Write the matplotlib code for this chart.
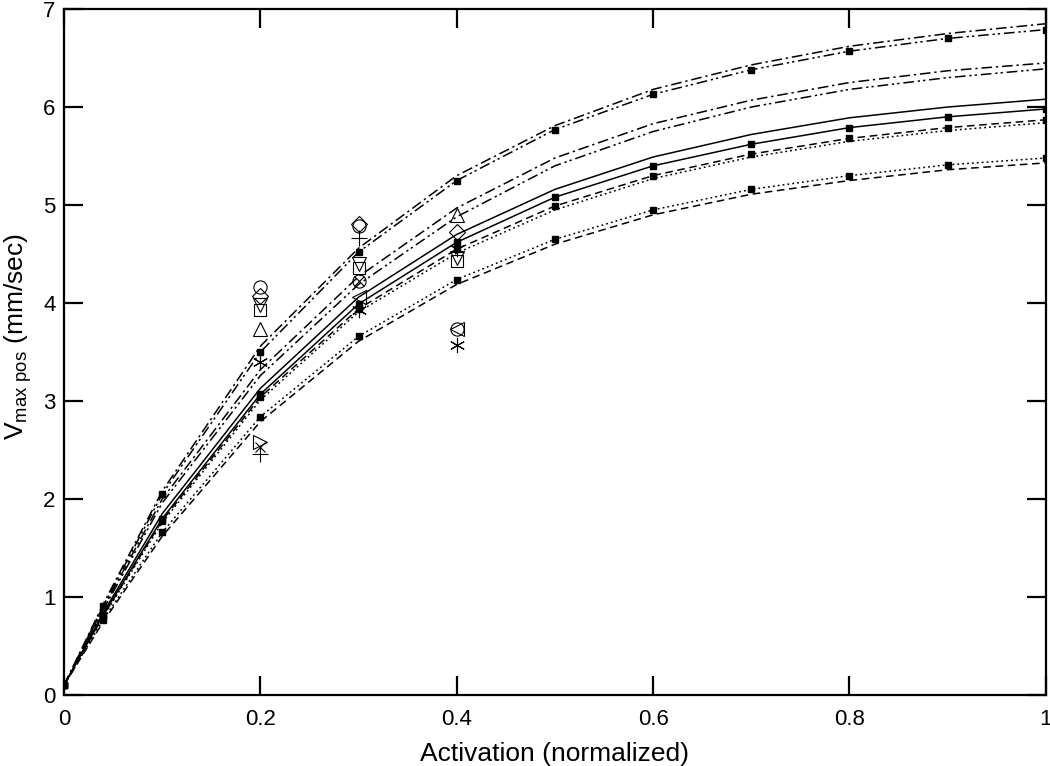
import matplotlib
matplotlib.use("Agg")
import matplotlib.pyplot as plt

plt.rcParams['font.family'] = ['Liberation Sans', 'DejaVu Sans']
plt.rcParams['mathtext.default'] = 'regular'

# activation levels where the model curves were evaluated
act = [0, 0.04, 0.1, 0.2, 0.3, 0.4, 0.5, 0.6, 0.7, 0.8, 0.9, 1.0]

# model curves (pairs), top to bottom at activation = 1
v_dashdot_a = [0.1, 0.93, 2.08, 3.56, 4.56, 5.30, 5.81, 6.18, 6.43, 6.62, 6.75, 6.85]
v_dashdotdot_a = [0.1, 0.91, 2.05, 3.50, 4.52, 5.25, 5.77, 6.13, 6.38, 6.57, 6.70, 6.79]
v_dashdot_b = [0.1, 0.89, 2.00, 3.32, 4.27, 4.97, 5.48, 5.83, 6.07, 6.25, 6.37, 6.45]
v_dashdotdot_b = [0.1, 0.87, 1.96, 3.26, 4.19, 4.88, 5.40, 5.75, 6.00, 6.18, 6.30, 6.39]
v_solid_a = [0.1, 0.84, 1.85, 3.13, 4.06, 4.70, 5.16, 5.49, 5.72, 5.89, 6.00, 6.08]
v_solid_b = [0.1, 0.82, 1.80, 3.07, 3.99, 4.62, 5.08, 5.40, 5.62, 5.79, 5.90, 5.98]
v_dashed_a = [0.1, 0.81, 1.78, 3.04, 3.94, 4.55, 4.99, 5.30, 5.52, 5.68, 5.79, 5.87]
v_dotted_a = [0.1, 0.80, 1.76, 3.01, 3.91, 4.51, 4.95, 5.27, 5.49, 5.65, 5.76, 5.84]
v_dotted_b = [0.1, 0.77, 1.66, 2.84, 3.66, 4.24, 4.65, 4.95, 5.16, 5.30, 5.41, 5.48]
v_dashed_b = [0.1, 0.75, 1.62, 2.79, 3.61, 4.19, 4.60, 4.90, 5.11, 5.25, 5.36, 5.43]

# measured points (open symbols)
circ_x = [0.2, 0.3, 0.3, 0.4]
circ_y = [4.16, 4.79, 4.22, 3.73]
diam_x = [0.2, 0.3, 0.4]
diam_y = [4.07, 4.81, 4.72]
sq_x = [0.2, 0.3, 0.4]
sq_y = [3.93, 4.36, 4.43]
dtri_x = [0.2, 0.3, 0.4]
dtri_y = [3.98, 4.40, 4.46]
utri_x = [0.2, 0.4]
utri_y = [3.73, 4.90]
ast_x = [0.2, 0.3, 0.4, 0.4]
ast_y = [3.40, 3.93, 4.55, 3.57]
plus_x = [0.2, 0.3]
plus_y = [2.46, 4.66]
cross_x = [0.2, 0.3]
cross_y = [2.53, 4.22]
rtri_x = [0.2]
rtri_y = [2.58]
ltri_x = [0.3, 0.4]
ltri_y = [4.06, 3.73]

fig = plt.figure(figsize=(10.5, 7.66), dpi=100)
ax = fig.add_axes([0.061, 0.0927, 0.935, 0.8955])

lw = 1.1
dd = (0, (7, 2.5, 1.5, 2.5))
ddd = (0, (7, 2.5, 1.5, 2, 1.5, 2.5))
mk = dict(marker='s', markersize=4.5, markerfacecolor='k', markeredgecolor='k')

ax.plot(act, v_dashdot_a, color='k', lw=lw, ls=dd)
ax.plot(act, v_dashdotdot_a, color='k', lw=lw, ls=ddd, **mk)
ax.plot(act, v_dashdot_b, color='k', lw=lw, ls=dd)
ax.plot(act, v_dashdotdot_b, color='k', lw=lw, ls=ddd)
ax.plot(act, v_solid_a, color='k', lw=lw, ls='-')
ax.plot(act, v_solid_b, color='k', lw=lw, ls='-', **mk)
ax.plot(act, v_dashed_a, color='k', lw=lw, ls=(0, (5, 3)), **mk)
ax.plot(act, v_dotted_a, color='k', lw=lw, ls=(0, (1.2, 2)))
ax.plot(act, v_dotted_b, color='k', lw=lw, ls=(0, (1.2, 2)), **mk)
ax.plot(act, v_dashed_b, color='k', lw=lw, ls=(0, (5, 3)))

sym = dict(ls='none', markersize=9.5, markerfacecolor='none',
           markeredgecolor='k', markeredgewidth=0.8, clip_on=False)
ax.plot(circ_x, circ_y, marker='o', **sym)
ax.plot(diam_x, diam_y, marker='D', **dict(sym, markersize=8))
ax.plot(sq_x, sq_y, marker='s', **dict(sym, markersize=8.5))
ax.plot(dtri_x, dtri_y, marker='v', **sym)
ax.plot(utri_x, utri_y, marker='^', **sym)
ax.plot(ast_x, ast_y, marker=(6, 2, 0), **dict(sym, markersize=11))
ax.plot(plus_x, plus_y, marker='+', **dict(sym, markersize=12))
ax.plot(cross_x, cross_y, marker='x', **dict(sym, markersize=7.5))
ax.plot(rtri_x, rtri_y, marker='>', **sym)
ax.plot(ltri_x, ltri_y, marker='<', **sym)

ax.set_xlim(0, 1)
ax.set_ylim(0, 7)
ax.set_xticks([0, 0.2, 0.4, 0.6, 0.8, 1])
ax.set_xticklabels(['0', '0.2', '0.4', '0.6', '0.8', '1'])
ax.set_yticks(range(8))

for s in ax.spines.values():
    s.set_linewidth(1.6)
ax.tick_params(direction='in', length=14, width=1.6, top=True, right=True,
               labelsize=16)
ax.tick_params(axis='x', pad=10)
ax.tick_params(axis='y', pad=6)

ax.set_xlabel('Activation (normalized)', fontsize=19, labelpad=9)
ax.set_ylabel(r'V$_{max\ pos}$ (mm/sec)', fontsize=19)
ax.yaxis.set_label_coords(-0.031, 0.523)

fig.savefig('out.png', dpi=100)
